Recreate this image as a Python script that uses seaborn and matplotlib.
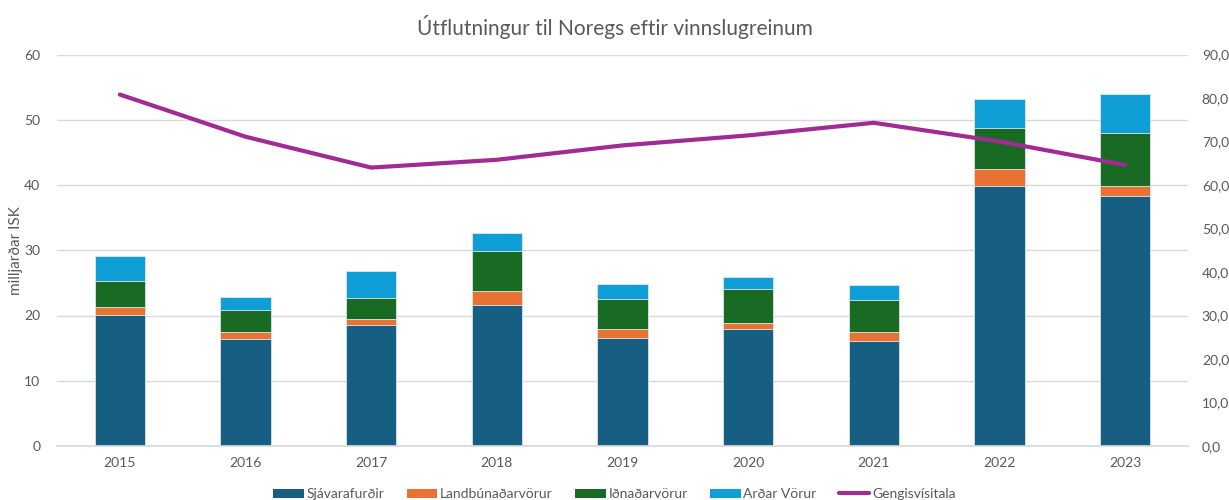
import numpy as np
import pandas as pd
import matplotlib
matplotlib.use("Agg")
import matplotlib.pyplot as plt
from matplotlib.patches import Patch
from matplotlib.lines import Line2D
from matplotlib.ticker import FuncFormatter
import seaborn as sns

sns.set_theme(style="white")
plt.rcParams['font.family'] = ['Lato', 'DejaVu Sans']

years = ['2015', '2016', '2017', '2018', '2019', '2020', '2021', '2022', '2023']
sjavarafurdir = [20.1, 16.4, 18.6, 21.6, 16.6, 17.9, 16.05, 39.85, 38.25]
landbunadarvorur = [1.2, 1.1, 0.8, 2.2, 1.35, 0.9, 1.45, 2.55, 1.65]
idnadarvorur = [4.0, 3.4, 3.3, 6.1, 4.65, 5.2, 4.9, 6.4, 8.1]
adrar_vorur = [3.75, 1.9, 4.15, 2.8, 2.2, 1.9, 2.2, 4.4, 5.95]
gengisvisitala = [80.8, 71.1, 64.0, 65.8, 69.1, 71.4, 74.3, 70.0, 64.6]

series = ['Sjávarafurðir', 'Landbúnaðarvörur', 'Iðnaðarvörur', 'Arðar Vörur']
colors = ['#175F82', '#E97132', '#196B24', '#0F9ED5']
line_color = '#A02B93'
text_color = '#595959'

df = pd.DataFrame({'ar': years, series[0]: sjavarafurdir, series[1]: landbunadarvorur,
                   series[2]: idnadarvorur, series[3]: adrar_vorur})
cum = df[series].cumsum(axis=1)

fig = plt.figure(figsize=(12.29, 5.0), dpi=100)
ax = fig.add_axes([0.0464, 0.108, 0.9202, 0.783])

# stacked bars: draw the cumulative totals from the top layer down
for name, col in reversed(list(zip(series, colors))):
    sns.barplot(x=df['ar'], y=cum[name], color=col, width=0.4, ax=ax,
                edgecolor='#DDE8EE', linewidth=0.6, saturation=1)

ax.set_ylim(0, 60)
ax.set_yticks(range(0, 61, 10))
ax.set_xlim(-0.5, len(years) - 0.5)
ax.set_xlabel('')
ax.set_ylabel('milljarðar ISK', fontsize=11, color=text_color)
ax.yaxis.set_label_coords(-0.03, 0.5)
ax.yaxis.grid(True, color='#D9D9D9', linewidth=1)
ax.set_axisbelow(True)
for s in ['top', 'right', 'left']:
    ax.spines[s].set_visible(False)
ax.spines['bottom'].set_color('#D9D9D9')
ax.tick_params(axis='both', length=0, labelsize=10, labelcolor=text_color)
ax.tick_params(axis='y', pad=12)
ax.tick_params(axis='x', pad=8)

ax2 = ax.twinx()
sns.lineplot(x=np.arange(len(years)), y=gengisvisitala, ax=ax2, color=line_color, linewidth=3)
ax2.set_ylim(0, 90)
ax2.set_yticks(range(0, 91, 10))
ax2.yaxis.set_major_formatter(FuncFormatter(lambda v, p: f"{v:.1f}".replace('.', ',')))
ax2.tick_params(axis='y', length=0, labelsize=10, labelcolor=text_color, pad=10)
for s in ax2.spines.values():
    s.set_visible(False)
ax2.set_xlim(-0.5, len(years) - 0.5)

fig.suptitle('Útflutningur til Noregs eftir vinnslugreinum', fontsize=15, color=text_color, y=0.97)

handles = [Patch(facecolor=c, edgecolor='none', label=n) for n, c in zip(series, colors)]
handles.append(Line2D([0], [0], color=line_color, linewidth=3, label='Gengisvísitala'))
fig.legend(handles=handles, loc='lower center', ncol=5, frameon=False, fontsize=10,
           bbox_to_anchor=(0.5, -0.025), handlelength=2.2, handleheight=0.6,
           columnspacing=1.6, handletextpad=0.2, labelcolor=text_color)

fig.savefig('out.png', dpi=100)
